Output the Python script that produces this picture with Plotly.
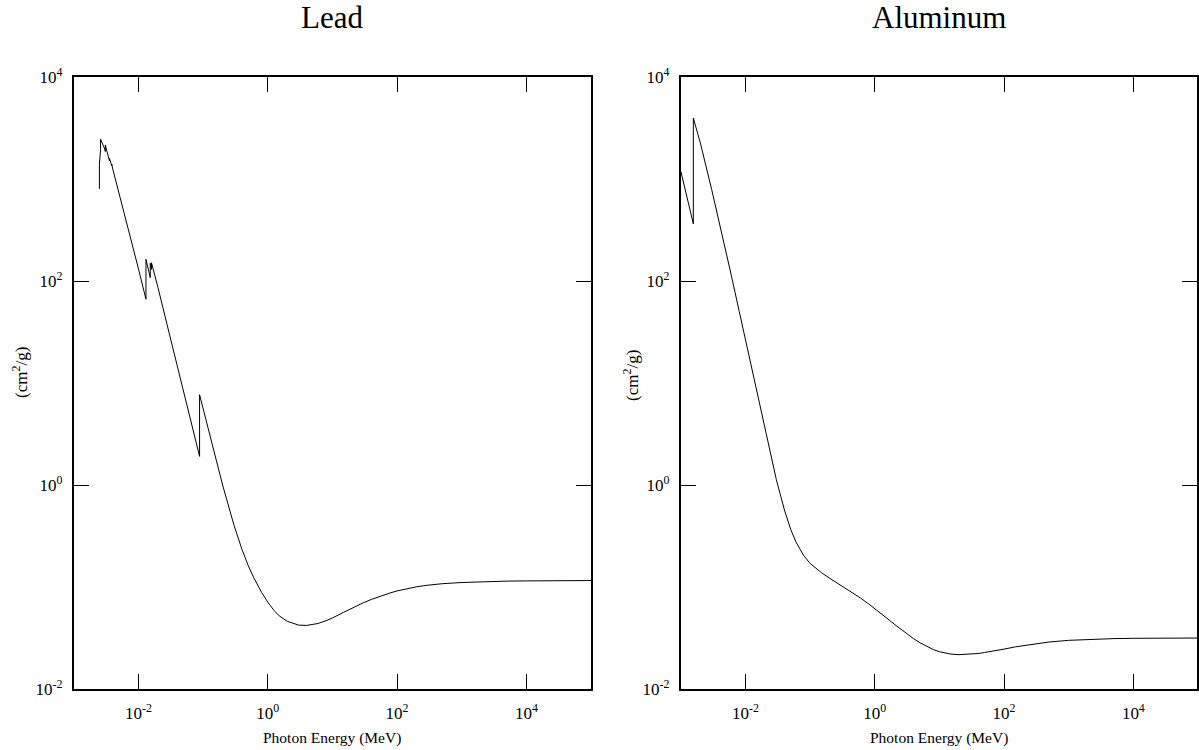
import plotly.graph_objects as go

# ---------------- data ----------------
lead_energy = [2.484e-3, 2.484e-3, 2.586e-3, 2.586e-3, 3.0e-3, 3.066e-3, 3.066e-3,
               3.554e-3, 3.554e-3, 3.851e-3, 3.851e-3, 4e-3, 5e-3, 6e-3, 8e-3, 1e-2,
               1.304e-2, 1.304e-2, 1.5e-2, 1.52e-2, 1.52e-2, 1.586e-2, 1.586e-2,
               2e-2, 3e-2, 4e-2, 5e-2, 6e-2, 8e-2, 8.8e-2, 8.8e-2, 0.1, 0.15, 0.2,
               0.3, 0.4, 0.5, 0.6, 0.8, 1, 1.25, 1.5, 2, 3, 4, 5, 6, 8, 10, 15, 20,
               30, 40, 50, 60, 80, 100, 150, 200, 300, 500, 1000, 2000, 5000, 1e4,
               2e4, 5e4, 1e5]
lead_mu = [800, 1400, 1940, 2460, 1970, 1860, 2150, 1500, 1590, 1350, 1400, 1250,
           730, 467, 229, 131, 66.3, 163, 112, 108, 149, 130, 151, 86.4, 30.3, 14.4,
           8.04, 5.02, 2.42, 1.91, 7.68, 5.55, 2.01, 1.0, 0.403, 0.232, 0.161, 0.125,
           0.0887, 0.0710, 0.0588, 0.0522, 0.0461, 0.0423, 0.0420, 0.0427, 0.0439,
           0.0468, 0.0497, 0.0566, 0.0621, 0.0700, 0.0755, 0.0797, 0.0830, 0.0879,
           0.0915, 0.0971, 0.1005, 0.1042, 0.1077, 0.1107, 0.1130, 0.1142, 0.1147,
           0.1150, 0.1155, 0.1157]

al_energy = [1e-3, 1.5e-3, 1.5596e-3, 1.5596e-3, 2e-3, 3e-3, 4e-3, 5e-3, 6e-3, 8e-3,
             1e-2, 1.5e-2, 2e-2, 3e-2, 4e-2, 5e-2, 6e-2, 8e-2, 0.1, 0.15, 0.2, 0.3,
             0.4, 0.5, 0.6, 0.8, 1, 1.25, 1.5, 2, 3, 4, 5, 6, 8, 10, 15, 20, 30, 40,
             50, 60, 80, 100, 150, 200, 300, 500, 1000, 2000, 5000, 1e4, 2e4, 5e4, 1e5]
al_mu = [1185, 402, 363, 3957, 2263, 788, 360.5, 193.4, 115.3, 50.3, 26.2, 7.96,
         3.44, 1.13, 0.569, 0.368, 0.278, 0.202, 0.170, 0.138, 0.122, 0.104, 0.0928,
         0.0845, 0.0780, 0.0684, 0.0615, 0.0550, 0.0501, 0.0432, 0.0354, 0.0311,
         0.0284, 0.0266, 0.0244, 0.0232, 0.0220, 0.0217, 0.0219, 0.0223, 0.0228,
         0.0232, 0.0240, 0.0246, 0.0259, 0.0267, 0.0278, 0.0289, 0.0300, 0.0307,
         0.0312, 0.0314, 0.0315, 0.0316, 0.0316]

panel_titles = ["Lead", "Aluminum"]
tick_vals = [1e-2, 1e0, 1e2, 1e4]
tick_text = ["10<sup>-2</sup>", "10<sup>0</sup>", "10<sup>2</sup>", "10<sup>4</sup>"]
x_title = "Photon Energy (MeV)"
y_title = "(cm<sup>2</sup>/g)"

# ---------------- layout geometry ----------------
W, H = 1199, 750
TOP, BOT = 77, 689
L1, R1 = 74, 592
L2, R2 = 682, 1199
FONT = "Liberation Serif, Times New Roman, serif"

def px_x(p):
    return p / W

def px_y(p):
    return (BOT - p) / (BOT - TOP)

fig = go.Figure()
fig.add_trace(go.Scatter(x=lead_energy, y=lead_mu, mode="lines",
                         line=dict(color="black", width=1), xaxis="x", yaxis="y",
                         showlegend=False, hoverinfo="skip"))
fig.add_trace(go.Scatter(x=al_energy, y=al_mu, mode="lines",
                         line=dict(color="black", width=1), xaxis="x2", yaxis="y2",
                         showlegend=False, hoverinfo="skip"))

common = dict(type="log", showgrid=False, zeroline=False, showline=True,
              linecolor="black", linewidth=2, mirror="ticks", ticks="inside",
              ticklen=15, tickwidth=1, tickcolor="black",
              tickvals=tick_vals, ticktext=tick_text,
              tickfont=dict(family=FONT, size=17, color="black"))

fig.update_layout(
    width=W, height=H, autosize=False,
    margin=dict(l=0, r=0, t=TOP, b=H - BOT),
    paper_bgcolor="white", plot_bgcolor="white",
    xaxis=dict(domain=[px_x(L1), px_x(R1)], range=[-3, 5], anchor="y",
               ticklabelstandoff=8, **common),
    yaxis=dict(domain=[0, 1], range=[-2, 4], anchor="x",
               ticklabelstandoff=6, **common),
    xaxis2=dict(domain=[px_x(L2), px_x(R2)], range=[-3, 5 - (1200 - R2) / 64.75],
                anchor="y2", ticklabelstandoff=8, **common),
    yaxis2=dict(domain=[0, 1], range=[-2, 4], anchor="x2",
                ticklabelstandoff=6, **common),
)

ann = []
for title, l, r in [(panel_titles[0], L1, R1), (panel_titles[1], L2, 1200)]:
    ann.append(dict(text=title, x=px_x((l + r) / 2), y=px_y(18), xref="paper",
                    yref="paper", showarrow=False, xanchor="center", yanchor="middle",
                    font=dict(family=FONT, size=31, color="black")))
    ann.append(dict(text=x_title, x=px_x((l + r) / 2), y=px_y(738), xref="paper",
                    yref="paper", showarrow=False, xanchor="center", yanchor="middle",
                    font=dict(family=FONT, size=15.5, color="black")))
ann.append(dict(text=y_title, x=px_x(20), y=px_y(372), xref="paper", yref="paper",
                showarrow=False, textangle=-90, xanchor="center", yanchor="middle",
                font=dict(family=FONT, size=17, color="black")))
ann.append(dict(text=y_title, x=px_x(632), y=px_y(375), xref="paper", yref="paper",
                showarrow=False, textangle=-90, xanchor="center", yanchor="middle",
                font=dict(family=FONT, size=17, color="black")))
fig.update_layout(annotations=ann)

fig.write_html("out.html", config={"displayModeBar": False},
               post_script="document.body.style.margin='0';")
